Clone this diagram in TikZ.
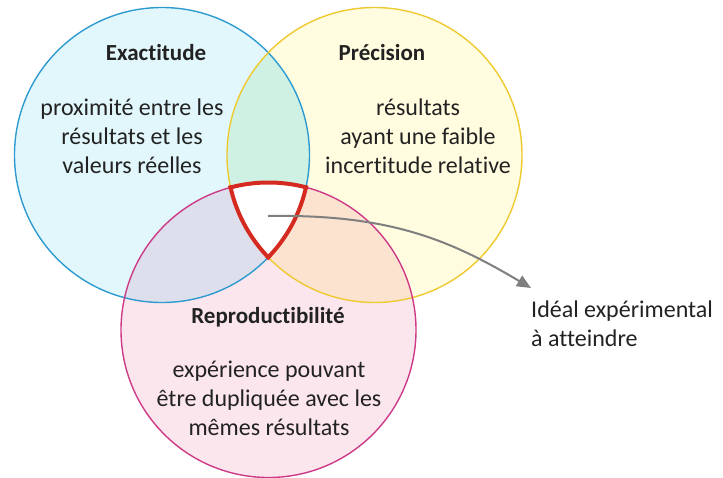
\documentclass[tikz,border=0pt]{standalone}
\usepackage{fontspec}
\setmainfont{Carlito}[Ligatures=NoCommon]
\usetikzlibrary{arrows.meta}
\definecolor{cBlueF}{HTML}{E2F7FC}
\definecolor{cYelF}{HTML}{FFFCE0}
\definecolor{cPinkF}{HTML}{FCE6EE}
\definecolor{cBY}{HTML}{CFF1E3}
\definecolor{cBP}{HTML}{DEDFEC}
\definecolor{cYP}{HTML}{FCE3D0}
\definecolor{cBlueL}{HTML}{2E9BD0}
\definecolor{cYelL}{HTML}{EFC930}
\definecolor{cPinkL}{HTML}{CC3A88}
\definecolor{cRed}{HTML}{D42A20}
\definecolor{cTxt}{HTML}{222222}
\definecolor{cArrow}{HTML}{7F7F7F}
\begin{document}
\begin{tikzpicture}[x=1pt,y=-1pt,
  ring/.style={line width=1.4pt},
  head/.style={font=\fontsize{23}{28}\selectfont\bfseries, text=cTxt, inner sep=0pt},
  body/.style={font=\fontsize{24}{29}\selectfont, text=cTxt, align=center, inner sep=0pt},
  note/.style={font=\fontsize{24}{29}\selectfont, text=cTxt, align=left, inner sep=0pt, anchor=west},
  pointer/.style={draw=cArrow, line width=2pt, -{Triangle[length=14pt,width=12pt]}},
  redline/.style={draw=cRed, line width=4pt}]
\path[use as bounding box] (0,0) rectangle (723,477);
\def\R{147.5pt}
\coordinate (cB) at (162,155);
\coordinate (cY) at (374.5,155);
\coordinate (cP) at (268.5,330);
% base fills
\fill[cBlueF] (cB) circle[radius=\R];
\fill[cYelF] (cY) circle[radius=\R];
\fill[cPinkF] (cP) circle[radius=\R];
% pair fills
\begin{scope}\clip (cB) circle[radius=\R]; \fill[cBY] (cY) circle[radius=\R];\end{scope}
\begin{scope}\clip (cB) circle[radius=\R]; \fill[cBP] (cP) circle[radius=\R];\end{scope}
\begin{scope}\clip (cY) circle[radius=\R]; \fill[cYP] (cP) circle[radius=\R];\end{scope}
% triple
\begin{scope}\clip (cB) circle[radius=\R]; \clip (cY) circle[radius=\R]; \fill[white] (cP) circle[radius=\R];\end{scope}
% outlines
\draw[ring, cBlueL] (cB) circle[radius=\R];
\draw[ring, cYelL] (cY) circle[radius=\R];
\draw[ring, cPinkL] (cP) circle[radius=\R];
% red border of triple region
\def\Rp{149.5pt}
\begin{scope}\clip (cB) circle[radius=\Rp]; \clip (cY) circle[radius=\Rp]; \draw[redline] (cP) circle[radius=\R];\end{scope}
\begin{scope}\clip (cB) circle[radius=\Rp]; \clip (cP) circle[radius=\Rp]; \draw[redline] (cY) circle[radius=\R];\end{scope}
\begin{scope}\clip (cY) circle[radius=\Rp]; \clip (cP) circle[radius=\Rp]; \draw[redline] (cB) circle[radius=\R];\end{scope}
% texts
\node[head] (hExa) at (156,53) {Exactitude};
\node[body] (tExa) at (132,136) {proximité entre les\\résultats et les\\valeurs réelles};
\node[head] (hPre) at (382,53) {Précision};
\node[body] (tPre) at (418,136) {résultats\\ayant une faible\\incertitude relative};
\node[head] (hRep) at (268,317) {Reproductibilité};
\node[body] (tRep) at (269,398) {expérience pouvant\\être dupliquée avec les\\mêmes résultats};
\node[note] (ideal) at (531,324) {Idéal expérimental\\à atteindre};
% pointer
\coordinate (pStart) at (268,216);
\coordinate (pEnd) at (531,288);
\draw[pointer] (pStart) .. controls (390,214) and (450,240) .. (pEnd);
\end{tikzpicture}
\end{document}
